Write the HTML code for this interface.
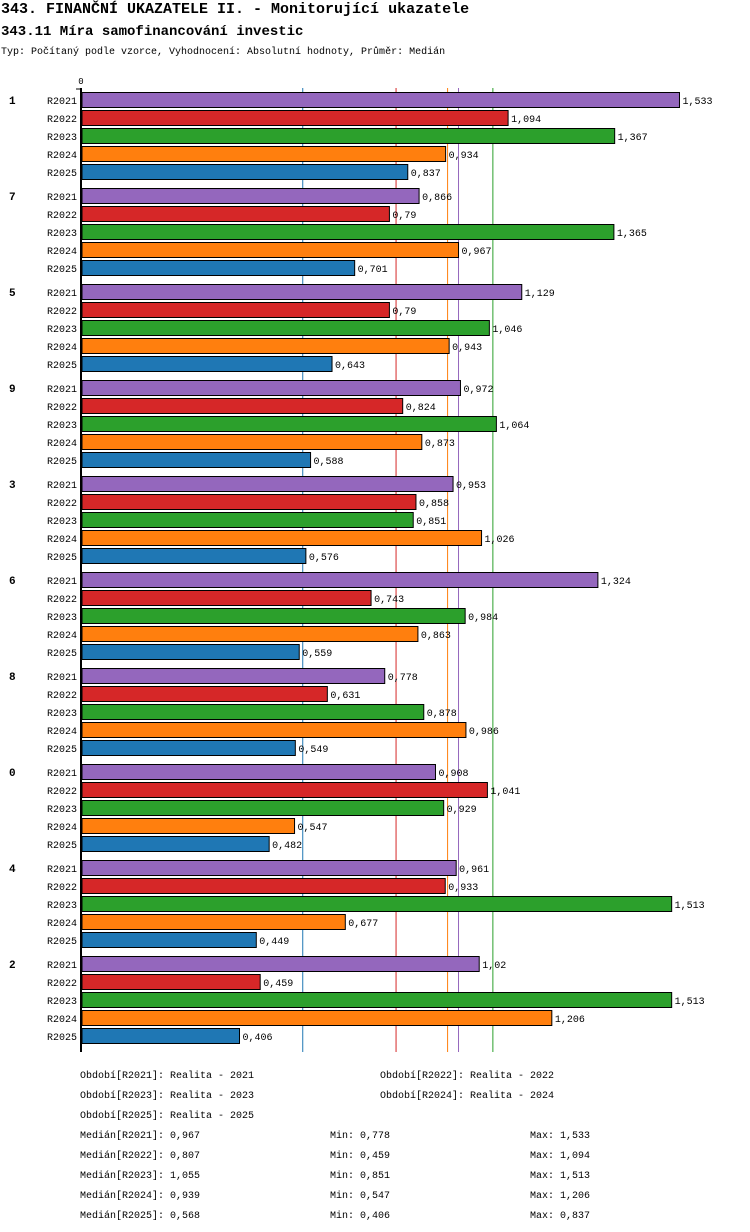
<!DOCTYPE html>
<html><head><meta charset="utf-8"><style>
body{margin:0;background:#fff;}
svg{display:block;font-family:"Liberation Mono",monospace;}
</style></head><body>
<svg width="750" height="1232" viewBox="0 0 750 1232">
<text x="1" y="13" font-size="15" font-weight="bold">343. FINANČNÍ UKAZATELE II. - Monitorující ukazatele</text>
<text x="1" y="35" font-size="14" font-weight="bold">343.11 Míra samofinancování investic</text>
<text x="1" y="54" font-size="10">Typ: Počítaný podle vzorce, Vyhodnocení: Absolutní hodnoty, Průměr: Medián</text>
<g id="plot"></g>
<g id="footer" font-size="10"></g>
</svg>
<script>
const groups=["1","7","5","9","3","6","8","0","4","2"];
const periods=["R2021","R2022","R2023","R2024","R2025"];
const r2021=[1.533,0.866,1.129,0.972,0.953,1.324,0.778,0.908,0.961,1.02];
const r2022=[1.094,0.79,0.79,0.824,0.858,0.743,0.631,1.041,0.933,0.459];
const r2023=[1.367,1.365,1.046,1.064,0.851,0.984,0.878,0.929,1.513,1.513];
const r2024=[0.934,0.967,0.943,0.873,1.026,0.863,0.986,0.547,0.677,1.206];
const r2025=[0.837,0.701,0.643,0.588,0.576,0.559,0.549,0.482,0.449,0.406];
const medians=[0.967,0.807,1.055,0.939,0.568];
const mins=[0.778,0.459,0.851,0.547,0.406];
const maxs=[1.533,1.094,1.513,1.206,0.837];
const colors=["#9467bd","#d62728","#2ca02c","#ff7f0e","#1f77b4"];
const series=[r2021,r2022,r2023,r2024,r2025];
const NS="http://www.w3.org/2000/svg";
const x0=81, scale=390.4;
const X=v=>x0+v*scale;
const Y=(g,p)=>100+g*96+p*18;
const plot=document.getElementById('plot');
function mk(tag,attrs,parent,text){const e=document.createElementNS(NS,tag);for(const k in attrs)e.setAttribute(k,attrs[k]);if(text!==undefined)e.textContent=text;parent.appendChild(e);return e;}
const fmt=v=>String(v).replace('.',',');
// median lines
medians.forEach((m,i)=>{
 const l=mk('line',{x1:X(m),x2:X(m),y1:88,y2:1052,stroke:colors[i],'stroke-width':1},plot);
 
 
});
groups.forEach((g,gi)=>{
 const gl=mk('text',{x:9,y:Y(gi,0)+4,'font-size':11,'font-weight':'bold'},plot,g);
 
 
 periods.forEach((p,pi)=>{
  const v=series[pi][gi], y=Y(gi,pi);
  const pl=mk('text',{x:77,y:y+4,'font-size':10,'text-anchor':'end'},plot,p);
  
  
  const r=mk('rect',{x:82,y:y-7.5,width:X(v)-82,height:15,fill:colors[pi],stroke:'#000','stroke-width':1},plot);
  
  
  const vl=mk('text',{x:X(v)+3,y:y+4,'font-size':10},plot,fmt(v));
  
  
 });
});
const ax=mk('line',{x1:81,x2:81,y1:88,y2:1052,stroke:'#000','stroke-width':2},plot);


const tk=mk('line',{x1:76,x2:82,y1:89,y2:89,stroke:'#000','stroke-width':1},plot);


const t0=mk('text',{x:81,y:84,'font-size':9,'text-anchor':'middle'},plot,'0');


const ft=document.getElementById('footer');
const leg=[[80,1078,0],[380,1078,1],[80,1098,2],[380,1098,3],[80,1118,4]];
leg.forEach(([x,y,i])=>{
 const t=mk('text',{x:x,y:y},ft,'Období['+periods[i]+']: Realita - '+periods[i].slice(1));
 
 
});
periods.forEach((p,i)=>{
 const y=1138+i*20;
 const a=mk('text',{x:80,y:y},ft,'Medián['+p+']: '+fmt(medians[i]));
 
 
 const b=mk('text',{x:330,y:y},ft,'Min: '+fmt(mins[i]));
 
 
 const c=mk('text',{x:530,y:y},ft,'Max: '+fmt(maxs[i]));
 
 
});
</script>
</body></html>
